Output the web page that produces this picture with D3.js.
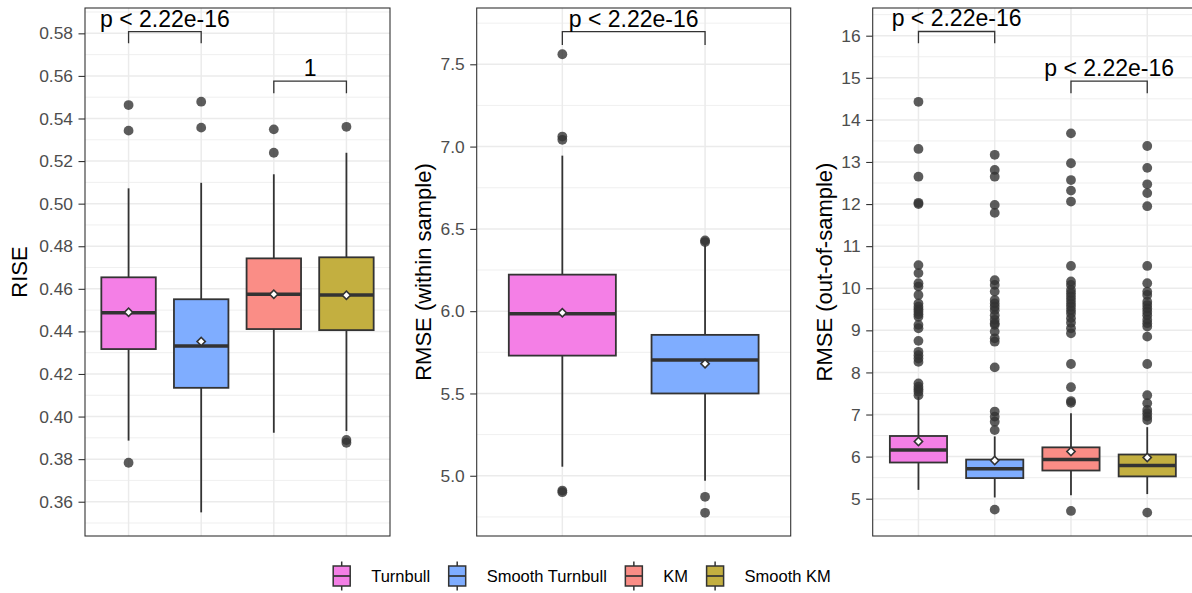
<!DOCTYPE html>
<html>
<head>
<meta charset="utf-8">
<script src="https://cdn.jsdelivr.net/npm/d3@7"></script>
<style>
  html, body { margin: 0; padding: 0; background: #ffffff; }
  svg { display: block; font-family: "Liberation Sans", Arial, Helvetica, sans-serif; }
</style>
</head>
<body>
<svg id="chart" width="1192" height="593"></svg>
<script>
// ---------------- data ----------------
const groups = ["Turnbull", "Smooth Turnbull", "KM", "Smooth KM"];
const groupColors = ["#F47FE6", "#7FADFF", "#FA8D86", "#C3AF40"];

// Panel 1: RISE
const riseTicks = [0.36, 0.38, 0.40, 0.42, 0.44, 0.46, 0.48, 0.50, 0.52, 0.54, 0.56, 0.58];
const riseQ1 = [0.4317, 0.4135, 0.4411, 0.4406];
const riseMedian = [0.4488, 0.4331, 0.4574, 0.4571];
const riseQ3 = [0.4654, 0.4551, 0.4743, 0.4748];
const riseLow = [0.3887, 0.3550, 0.3924, 0.3932];
const riseHigh = [0.5072, 0.5098, 0.5138, 0.5239];
const riseMean = [0.4490, 0.4353, 0.4575, 0.4570];
const riseOutliers = [
  [0.5463, 0.5343, 0.3783],
  [0.5479, 0.5357],
  [0.5349, 0.5239],
  [0.5361, 0.3890, 0.3877]
];

// Panel 2: RMSE (within sample)
const withinTicks = [5.0, 5.5, 6.0, 6.5, 7.0, 7.5];
const withinQ1 = [5.730, 5.500];
const withinMedian = [5.985, 5.704];
const withinQ3 = [6.222, 5.856];
const withinLow = [5.055, 4.970];
const withinHigh = [6.945, 6.400];
const withinMean = [5.990, 5.680];
const withinOutliers = [
  [7.561, 7.061, 7.041, 4.910, 4.900],
  [6.430, 6.420, 4.872, 4.775]
];

// Panel 3: RMSE (out-of-sample)
const outTicks = [5, 6, 7, 8, 9, 10, 11, 12, 13, 14, 15, 16];
const outQ1 = [5.86, 5.49, 5.67, 5.53];
const outMedian = [6.16, 5.71, 5.93, 5.79];
const outQ3 = [6.49, 5.93, 6.22, 6.05];
const outLow = [5.21, 5.03, 5.08, 5.11];
const outHigh = [7.42, 6.48, 7.03, 6.70];
const outMean = [6.36, 5.905, 6.12, 5.98];
const outOutliers = [
  [14.43, 13.31, 12.65, 12.03, 12.00, 10.55, 10.36, 10.12, 10.04, 9.84, 9.64, 9.56, 9.50, 9.44, 9.38, 9.32, 9.13, 9.05, 8.75, 8.49, 8.41, 8.33, 8.25, 7.74, 7.66, 7.60, 7.54, 7.46],
  [13.17, 12.81, 12.65, 11.98, 11.79, 10.19, 10.08, 9.92, 9.72, 9.64, 9.56, 9.48, 9.36, 9.25, 9.17, 9.13, 8.97, 8.81, 8.73, 8.12, 7.07, 6.95, 6.83, 6.63, 4.74],
  [13.68, 12.97, 12.57, 12.32, 12.06, 10.53, 10.16, 10.08, 9.96, 9.88, 9.80, 9.72, 9.64, 9.56, 9.48, 9.40, 9.29, 9.18, 9.05, 8.93, 8.20, 7.65, 7.32, 7.28, 4.71],
  [13.38, 12.86, 12.47, 12.26, 11.95, 10.53, 10.12, 9.92, 9.84, 9.68, 9.60, 9.52, 9.44, 9.36, 9.25, 9.17, 9.09, 8.85, 8.20, 7.46, 7.27, 7.11, 7.03, 6.95, 6.87, 4.67]
];

// significance brackets: [fromIndex, toIndex, lineValue, tipValue, label]
const riseBrackets = [[0, 1, 0.5808, 0.5753, "p < 2.22e-16"], [2, 3, 0.5576, 0.5518, "1"]];
const withinBrackets = [[0, 1, 7.698, 7.617, "p < 2.22e-16"]];
const outBrackets = [[0, 1, 16.10, 15.82, "p < 2.22e-16"], [2, 3, 14.92, 14.63, "p < 2.22e-16"]];

// ---------------- layout ----------------
const svg = d3.select("#chart");
const panelTop = 8, panelBottom = 536;

const panels = [
  { x0: 85, x1: 390, domain: [0.3439, 0.5919], ticks: riseTicks, fmt: d3.format(".2f"), minorStep: 0.01,
    title: "RISE", titleX: 27, n: 4,
    q1: riseQ1, med: riseMedian, q3: riseQ3, lo: riseLow, hi: riseHigh, mean: riseMean, out: riseOutliers, brackets: riseBrackets },
  { x0: 476.7, x1: 790.7, domain: [4.634, 7.842], ticks: withinTicks, fmt: d3.format(".1f"), minorStep: 0.25,
    title: "RMSE (within sample)", titleX: 430.5, n: 2,
    q1: withinQ1, med: withinMedian, q3: withinQ3, lo: withinLow, hi: withinHigh, mean: withinMean, out: withinOutliers, brackets: withinBrackets },
  { x0: 872.7, x1: 1193, domain: [4.114, 16.658], ticks: outTicks, fmt: d3.format("d"), minorStep: 0.5,
    title: "RMSE (out-of-sample)", titleX: 831.5, n: 4,
    q1: outQ1, med: outMedian, q3: outQ3, lo: outLow, hi: outHigh, mean: outMean, out: outOutliers, brackets: outBrackets }
];

const dark = "#333333";

panels.forEach(p => {
  const cats = groups.slice(0, p.n);
  const x = d3.scalePoint().domain(cats).range([p.x0, p.x1]).padding(0.6);
  const y = d3.scaleLinear().domain(p.domain).range([panelBottom, panelTop]);
  const boxW = x.step() * 0.75;
  const g = svg.append("g");

  g.append("rect").attr("x", p.x0).attr("y", panelTop).attr("width", p.x1 - p.x0).attr("height", panelBottom - panelTop).attr("fill", "#fff");

  // minor grid
  const minor = d3.range(Math.ceil(p.domain[0] / p.minorStep) * p.minorStep, p.domain[1], p.minorStep)
    .filter(v => !p.ticks.some(t => Math.abs(t - v) < 1e-9));
  g.selectAll(".minor").data(minor).join("line")
    .attr("x1", p.x0).attr("x2", p.x1).attr("y1", d => y(d)).attr("y2", d => y(d))
    .attr("stroke", "#EBEBEB").attr("stroke-width", 0.8);
  // major grid
  g.selectAll(".major").data(p.ticks).join("line")
    .attr("x1", p.x0).attr("x2", p.x1).attr("y1", d => y(d)).attr("y2", d => y(d))
    .attr("stroke", "#EBEBEB").attr("stroke-width", 1.5);
  g.selectAll(".vgrid").data(cats).join("line")
    .attr("x1", d => x(d)).attr("x2", d => x(d)).attr("y1", panelTop).attr("y2", panelBottom)
    .attr("stroke", "#EBEBEB").attr("stroke-width", 1.5);

  // boxplots
  cats.forEach((c, i) => {
    const cx = x(c);
    g.append("line").attr("x1", cx).attr("x2", cx).attr("y1", y(p.q3[i])).attr("y2", y(p.hi[i]))
      .attr("stroke", dark).attr("stroke-width", 1.8);
    g.append("line").attr("x1", cx).attr("x2", cx).attr("y1", y(p.q1[i])).attr("y2", y(p.lo[i]))
      .attr("stroke", dark).attr("stroke-width", 1.8);
    g.append("rect").attr("x", cx - boxW / 2).attr("width", boxW)
      .attr("y", y(p.q3[i])).attr("height", y(p.q1[i]) - y(p.q3[i]))
      .attr("fill", groupColors[i]).attr("stroke", dark).attr("stroke-width", 1.8);
    g.append("line").attr("x1", cx - boxW / 2).attr("x2", cx + boxW / 2)
      .attr("y1", y(p.med[i])).attr("y2", y(p.med[i]))
      .attr("stroke", dark).attr("stroke-width", 3.5);
    g.selectAll(null).data(p.out[i]).join("circle")
      .attr("cx", cx).attr("cy", d => y(d)).attr("r", 4.9)
      .attr("fill", dark).attr("fill-opacity", 0.8);
    g.append("path").attr("d", d3.symbol(d3.symbolSquare, 34)())
      .attr("transform", `translate(${cx},${y(p.mean[i])}) rotate(45)`)
      .attr("fill", "#fff").attr("stroke", dark).attr("stroke-width", 1.6);
  });

  // brackets
  p.brackets.forEach(b => {
    const xa = x(cats[b[0]]), xb = x(cats[b[1]]);
    const yl = y(b[2]), yt = y(b[3]);
    g.append("path").attr("d", `M${xa},${yt}V${yl}H${xb}V${yt}`)
      .attr("fill", "none").attr("stroke", dark).attr("stroke-width", 1.3);
    g.append("text").attr("x", (xa + xb) / 2).attr("y", yl - 5)
      .attr("text-anchor", "middle").attr("font-size", 23).attr("fill", "#000").text(b[4]);
  });

  // border
  g.append("rect").attr("x", p.x0).attr("y", panelTop).attr("width", p.x1 - p.x0).attr("height", panelBottom - panelTop)
    .attr("fill", "none").attr("stroke", dark).attr("stroke-width", 1.1);

  // y axis
  const axis = svg.append("g").attr("transform", `translate(${p.x0},0)`)
    .call(d3.axisLeft(y).tickValues(p.ticks).tickFormat(p.fmt).tickSize(6.5).tickPadding(5.5));
  axis.select(".domain").remove();
  axis.selectAll(".tick line").attr("stroke", dark).attr("stroke-width", 1.1);
  axis.selectAll(".tick text").attr("fill", "#4D4D4D").attr("font-size", 17.4)
    .attr("font-family", "Liberation Sans, Arial, sans-serif");

  // title
  svg.append("text")
    .attr("transform", `translate(${p.titleX},${(panelTop + panelBottom) / 2}) rotate(-90)`)
    .attr("text-anchor", "middle").attr("font-size", 22).attr("fill", "#000").text(p.title);
});

// ---------------- legend ----------------
const legend = svg.append("g");
const legendY = 576, keyW = 17, keyH = 20, textOffset = 38, itemGap = 18.5, legendFont = 16.5;
const tmp = legend.append("text").attr("font-size", legendFont);
const widths = groups.map(gname => { tmp.text(gname); return tmp.node().getComputedTextLength(); });
tmp.remove();
const totalW = groups.reduce((s, gname, i) => s + textOffset + widths[i] + (i < groups.length - 1 ? itemGap : 0), 0);
let lx = 582 - totalW / 2;
groups.forEach((gname, i) => {
  const cx = lx + keyW / 2;
  legend.append("line").attr("x1", cx).attr("x2", cx).attr("y1", legendY - 14.5).attr("y2", legendY + 14.5)
    .attr("stroke", dark).attr("stroke-width", 1.5);
  legend.append("rect").attr("x", lx).attr("y", legendY - keyH / 2).attr("width", keyW).attr("height", keyH)
    .attr("fill", groupColors[i]).attr("stroke", dark).attr("stroke-width", 1.5);
  legend.append("line").attr("x1", lx).attr("x2", lx + keyW).attr("y1", legendY).attr("y2", legendY)
    .attr("stroke", dark).attr("stroke-width", 1.7);
  legend.append("text").attr("x", lx + textOffset).attr("y", legendY).attr("dy", "0.35em")
    .attr("font-size", legendFont).attr("fill", "#000").text(gname);
  lx += textOffset + widths[i] + itemGap;
});
</script>
</body>
</html>
